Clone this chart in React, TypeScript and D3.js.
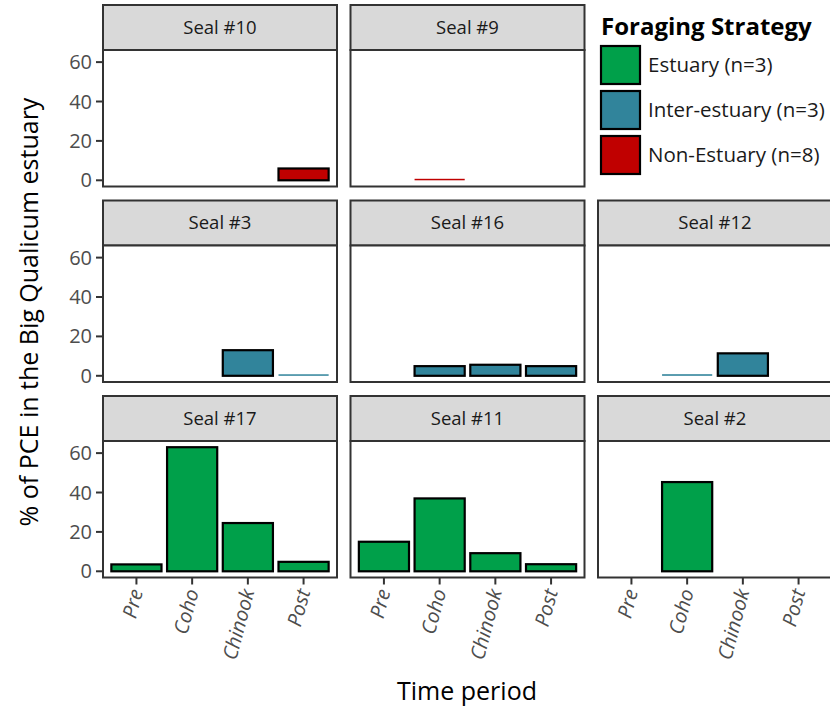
import React from "react";
import * as d3 from "d3";

const periods = ["Pre", "Coho", "Chinook", "Post"];
const seals = ["Seal #10", "Seal #9", "Seal #3", "Seal #16", "Seal #12", "Seal #17", "Seal #11", "Seal #2"];
const sealStrategy = ["Non-Estuary", "Non-Estuary", "Inter-estuary", "Inter-estuary", "Inter-estuary", "Estuary", "Estuary", "Estuary"];
const pcePre: (number | null)[] = [null, null, null, null, null, 3.5, 15, null];
const pceCoho: (number | null)[] = [null, 0.3, null, 4.9, 0.8, 63, 37, 45.3];
const pceChinook: (number | null)[] = [null, null, 13, 5.6, 11.4, 24.5, 9.2, null];
const pcePost: (number | null)[] = [6, null, 0.4, 4.9, null, 4.8, 3.6, null];
const yTicks = [0, 20, 40, 60];
const strategies = ["Estuary", "Inter-estuary", "Non-Estuary"];
const strategyLabels = ["Estuary (n=3)", "Inter-estuary (n=3)", "Non-Estuary (n=8)"];
const strategyColors = ["#00A04A", "#31849B", "#C00000"];

const W = 830, H = 710;
const FONT = "'Open Sans', sans-serif";
const left0 = 103, panelW = 234, colGap = 13.5;
const top0 = 5, stripH = 45, panelH = 136.5, rowGap = 14;

export default function App() {
  const color = d3.scaleOrdinal<string, string>().domain(strategies).range(strategyColors);
  const series = [pcePre, pceCoho, pceChinook, pcePost];
  const maxV = d3.max(series.flat().map((v) => v ?? 0)) as number;
  const x = d3.scaleBand<string>().domain(periods).range([0, panelW]).paddingInner(0.1).paddingOuter(0.15);
  const y = d3.scaleLinear().domain([-0.05 * maxV, 1.05 * maxV]).range([panelH, 0]);

  const positions = seals.map((_, i) => {
    const row = i < 2 ? 0 : i < 5 ? 1 : 2;
    const col = i < 2 ? i : i < 5 ? i - 2 : i - 5;
    return { row, col };
  });

  const bottomPanels = [5, 6, 7];

  return (
    <svg width={W} height={H} style={{ position: "absolute", left: 0, top: 0, background: "#fff" }} fontFamily={FONT}>
      <rect x={0} y={0} width={W} height={H} fill="#fff" />
      {seals.map((name, i) => {
        const { row, col } = positions[i];
        const px = left0 + col * (panelW + colGap);
        const py = top0 + row * (stripH + panelH + rowGap);
        const pTop = py + stripH;
        const strat = sealStrategy[i];
        return (
          <g key={name}>
            <rect x={px} y={py} width={panelW} height={stripH} fill="#D9D9D9" stroke="#333" strokeWidth={2} />
            <text x={px + panelW / 2} y={py + stripH / 2} dy="0.35em" textAnchor="middle" fontSize={18.5} fill="#1a1a1a">
              {name}
            </text>
            <g transform={`translate(${px},${pTop})`}>
              <rect x={0} y={0} width={panelW} height={panelH} fill="#fff" />
              {periods.map((p, k) => {
                const v = series[k][i];
                if (v === null || v === undefined) return null;
                const bx = x(p) as number;
                const tiny = v < 1.5;
                const yTop = y(v);
                const y0 = y(0);
                const h = Math.max(y0 - yTop, 1.5);
                return (
                  <rect
                    key={p}
                    x={bx}
                    y={y0 - h}
                    width={x.bandwidth()}
                    height={h}
                    fill={color(strat)}
                    stroke={tiny ? "none" : "#000"}
                    strokeWidth={tiny ? 0 : 2.2}
                  />
                );
              })}
              <rect x={0} y={0} width={panelW} height={panelH} fill="none" stroke="#333" strokeWidth={2} />
              {col === 0 &&
                yTicks.map((t) => (
                  <g key={t} transform={`translate(0,${y(t)})`}>
                    <line x1={-7} x2={0} stroke="#333" strokeWidth={2} />
                    <text x={-11} dy="0.35em" textAnchor="end" fontSize={20} fill="#4D4D4D">
                      {t}
                    </text>
                  </g>
                ))}
              {bottomPanels.includes(i) &&
                periods.map((p) => {
                  const cx = (x(p) as number) + x.bandwidth() / 2;
                  return (
                    <g key={p} transform={`translate(${cx},${panelH})`}>
                      <line y1={0} y2={7} stroke="#333" strokeWidth={2} />
                      <text
                        transform={`translate(0,12) rotate(-75)`}
                        textAnchor="end"
                        dy="0.35em"
                        fontSize={20}
                        fontStyle="italic"
                        fill="#4D4D4D"
                      >
                        {p}
                      </text>
                    </g>
                  );
                })}
            </g>
          </g>
        );
      })}
      <text transform={`translate(38,312) rotate(-90)`} textAnchor="middle" fontSize={25} fill="#000">
        % of PCE in the Big Qualicum estuary
      </text>
      <text x={467} y={700} textAnchor="middle" fontSize={25} fill="#000">
        Time period
      </text>
      <text x={601} y={35} fontSize={24} fontWeight="bold" fill="#000">
        Foraging Strategy
      </text>
      {strategies.map((s, k) => (
        <g key={s} transform={`translate(601,${46 + k * 45})`}>
          <rect x={0} y={0} width={39} height={38} fill={color(s)} stroke="#000" strokeWidth={2.2} />
          <text x={47} y={19} dy="0.35em" fontSize={20.5} fill="#1a1a1a">
            {strategyLabels[k]}
          </text>
        </g>
      ))}
    </svg>
  );
}
